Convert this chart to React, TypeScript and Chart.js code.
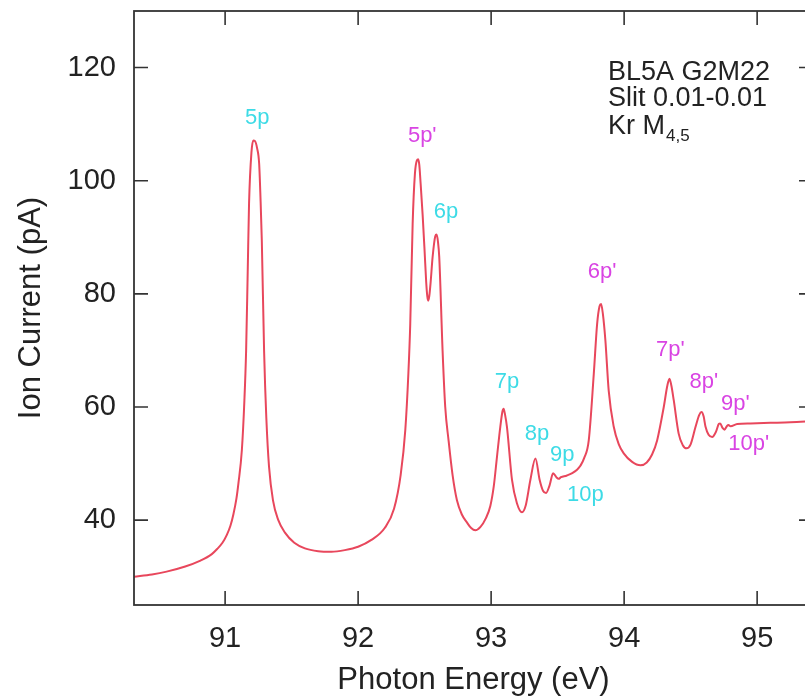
import React, { useEffect, useRef } from "react";
import { Chart, registerables } from "chart.js";

Chart.register(...registerables);

// Kr M4,5 photoion yield spectrum (photon energy in eV, ion current in pA)
const energies = [
  90.315, 90.45, 90.56, 90.7, 90.81, 90.9, 90.94, 90.98, 91.013, 91.04,
  91.062, 91.085, 91.1, 91.126, 91.145, 91.158, 91.17, 91.18, 91.198, 91.212,
  91.225, 91.24, 91.256, 91.266, 91.276, 91.293, 91.31, 91.33, 91.36, 91.4,
  91.45, 91.52, 91.6, 91.7, 91.8, 91.9, 92.0, 92.1, 92.2, 92.27,
  92.32, 92.355, 92.378, 92.392, 92.41, 92.427, 92.442, 92.452, 92.46, 92.47,
  92.485, 92.5, 92.512, 92.52, 92.527, 92.535, 92.545, 92.56, 92.58, 92.59,
  92.6, 92.61, 92.635, 92.655, 92.68, 92.71, 92.743, 92.78, 92.818, 92.85,
  92.881, 92.92, 92.96, 92.994, 93.02, 93.044, 93.069, 93.085, 93.094, 93.105,
  93.119, 93.157, 93.194, 93.232, 93.26, 93.295, 93.333, 93.365, 93.39, 93.413,
  93.44, 93.466, 93.49, 93.508, 93.525, 93.541, 93.57, 93.61, 93.646, 93.671,
  93.7, 93.734, 93.772, 93.797, 93.815, 93.827, 93.84, 93.859, 93.884, 93.922,
  93.96, 93.997, 94.06, 94.123, 94.17, 94.21, 94.248, 94.298, 94.325, 94.341,
  94.355, 94.373, 94.41, 94.44, 94.469, 94.5, 94.537, 94.565, 94.582, 94.598,
  94.612, 94.635, 94.662, 94.69, 94.712, 94.722, 94.74, 94.755, 94.772, 94.785,
  94.8, 94.85, 94.95, 95.1, 95.25, 95.42,
];

const currents = [
  30.0, 30.4, 30.9, 31.8, 32.8, 34.0, 34.9, 36.0, 37.4, 39.0,
  41.0, 43.8, 46.5, 52.4, 61.2, 70.0, 84.0, 96.0, 105.0, 107.1,
  107.0, 105.8, 103.0, 97.0, 89.4, 70.0, 58.0, 49.5, 43.5, 40.0,
  37.8, 36.0, 35.0, 34.5, 34.4, 34.7, 35.3, 36.5, 38.6, 42.0,
  48.0, 56.0, 66.0, 74.7, 92.4, 101.2, 103.6, 103.8, 102.8, 99.5,
  94.0, 87.5, 82.0, 79.6, 78.8, 79.6, 82.0, 86.5, 90.2, 90.5,
  89.3, 86.5, 70.0, 60.0, 54.1, 48.0, 43.5, 41.0, 39.6, 38.6,
  38.2, 38.8, 40.3, 42.5, 46.0, 51.2, 56.5, 59.2, 59.7, 58.6,
  56.5, 47.1, 43.0, 41.4, 42.6, 47.1, 50.9, 47.1, 45.2, 44.8,
  46.2, 48.3, 47.6, 47.3, 47.6, 47.7, 47.9, 48.3, 48.9, 49.6,
  51.0, 54.1, 65.9, 74.7, 77.8, 78.2, 76.5, 71.8, 62.9, 56.5,
  53.4, 51.8, 50.3, 49.7, 50.2, 51.6, 54.1, 60.0, 63.8, 65.0,
  63.8, 61.2, 55.3, 53.3, 52.7, 53.4, 56.5, 58.6, 59.1, 58.3,
  56.5, 55.1, 54.7, 55.6, 57.0, 57.1, 56.3, 56.0, 56.6, 56.8,
  56.6, 57.0, 57.1, 57.2, 57.3, 57.5,
];

const xTickValues = [91, 92, 93, 94, 95];
const yTickValues = [40, 60, 80, 100, 120];

// Rydberg series assignments: np (cyan) and np' (magenta)
const seriesLabels = ["5p", "6p", "7p", "8p", "9p", "10p"];
const seriesLabelX = [91.241, 92.661, 93.12, 93.345, 93.534, 93.709];
const seriesLabelY = [111.1, 94.4, 64.4, 55.3, 51.5, 44.4];

const primeLabels = ["5p'", "6p'", "7p'", "8p'", "9p'", "10p'"];
const primeLabelX = [92.482, 93.834, 94.348, 94.599, 94.837, 94.937];
const primeLabelY = [107.9, 83.8, 70.0, 64.4, 60.6, 53.5];

const noteLines = ["BL5A G2M22", "Slit 0.01-0.01", "Kr M"];
const noteSubscript = "4,5";
const noteX = 93.879;
const noteBaselines = [117.8, 113.2, 108.3];

const FONT = "'Liberation Sans', Arial, Helvetica, sans-serif";
const TEXT = "#222222";
const FRAME = "#333333";
const CURVE = "#e8475c";
const CYAN = "#3ddbe6";
const MAGENTA = "#d944e3";

const framePlugin = {
  id: "frameAndNotes",
  afterDraw(chart: any) {
    const { ctx, chartArea, scales } = chart;
    const { left, right, top, bottom } = chartArea;
    const xs = scales.x;
    const ys = scales.y;
    const tick = 14;
    ctx.save();
    ctx.strokeStyle = FRAME;
    ctx.lineWidth = 1.8;
    ctx.strokeRect(left, top, right - left, bottom - top);
    ctx.lineWidth = 1.6;
    ctx.beginPath();
    for (const v of xTickValues) {
      const px = xs.getPixelForValue(v);
      ctx.moveTo(px, bottom);
      ctx.lineTo(px, bottom - tick);
      ctx.moveTo(px, top);
      ctx.lineTo(px, top + tick);
    }
    for (const v of yTickValues) {
      const py = ys.getPixelForValue(v);
      ctx.moveTo(left, py);
      ctx.lineTo(left + tick, py);
      ctx.moveTo(right, py);
      ctx.lineTo(right - tick, py);
    }
    ctx.stroke();

    ctx.font = `22px ${FONT}`;
    ctx.textAlign = "center";
    ctx.textBaseline = "middle";
    ctx.fillStyle = CYAN;
    seriesLabels.forEach((t, i) => {
      ctx.fillText(t, xs.getPixelForValue(seriesLabelX[i]), ys.getPixelForValue(seriesLabelY[i]));
    });
    ctx.fillStyle = MAGENTA;
    primeLabels.forEach((t, i) => {
      ctx.fillText(t, xs.getPixelForValue(primeLabelX[i]), ys.getPixelForValue(primeLabelY[i]));
    });

    ctx.fillStyle = TEXT;
    ctx.textAlign = "left";
    ctx.textBaseline = "alphabetic";
    ctx.font = `27px ${FONT}`;
    const nx = xs.getPixelForValue(noteX);
    noteLines.forEach((t, i) => {
      ctx.fillText(t, nx, ys.getPixelForValue(noteBaselines[i]));
    });
    const lastY = ys.getPixelForValue(noteBaselines[noteBaselines.length - 1]);
    const w = ctx.measureText(noteLines[noteLines.length - 1]).width;
    ctx.font = `17px ${FONT}`;
    ctx.fillText(noteSubscript, nx + w + 1, lastY + 7);
    ctx.restore();
  },
};

export default function App() {
  const ref = useRef<HTMLCanvasElement>(null);

  useEffect(() => {
    const canvas = ref.current;
    if (!canvas) return;
    const tickFont = { family: FONT, size: 29 };
    const titleFont = { family: FONT, size: 31 };
    const chart = new Chart(canvas, {
      type: "line",
      data: {
        datasets: [
          {
            data: energies.map((e, i) => ({ x: e, y: currents[i] })),
            borderColor: CURVE,
            borderWidth: 2,
            pointRadius: 0,
            cubicInterpolationMode: "monotone",
            fill: false,
          },
        ],
      },
      options: {
        responsive: false,
        animation: false,
        devicePixelRatio: 1,
        layout: { padding: { left: 0, top: 11, right: 7, bottom: 0 } },
        plugins: { legend: { display: false }, tooltip: { enabled: false } },
        scales: {
          x: {
            type: "linear",
            min: 90.315,
            max: 95.42,
            afterFit: (s: any) => {
              s.height = 95;
              s.paddingLeft = 0;
              s.paddingRight = 0;
            },
            afterBuildTicks: (a: any) => {
              a.ticks = xTickValues.map((v) => ({ value: v }));
            },
            grid: { display: false, drawTicks: false },
            border: { display: false },
            ticks: { font: tickFont, color: TEXT, padding: 17, autoSkip: false, maxRotation: 0 },
            title: {
              display: true,
              text: "Photon Energy (eV)",
              font: titleFont,
              color: TEXT,
              padding: { top: 0, bottom: 1 },
            },
          },
          y: {
            type: "linear",
            min: 25,
            max: 130,
            afterFit: (s: any) => {
              s.width = 134;
              s.paddingTop = 0;
              s.paddingBottom = 0;
            },
            afterBuildTicks: (a: any) => {
              a.ticks = yTickValues.map((v) => ({ value: v }));
            },
            grid: { display: false, drawTicks: false },
            border: { display: false },
            ticks: { font: tickFont, color: TEXT, padding: 18, autoSkip: false },
            title: {
              display: true,
              text: "Ion Current (pA)",
              font: titleFont,
              color: TEXT,
              padding: { top: 13, bottom: 0 },
            },
          },
        },
      },
      plugins: [framePlugin],
    });
    return () => chart.destroy();
  }, []);

  return (
    <div
      style={{
        position: "fixed",
        left: 0,
        top: 0,
        width: 805,
        height: 700,
        overflow: "hidden",
        background: "#ffffff",
      }}
    >
      <canvas ref={ref} width={820} height={700} style={{ display: "block", width: 820, height: 700 }} />
    </div>
  );
}
